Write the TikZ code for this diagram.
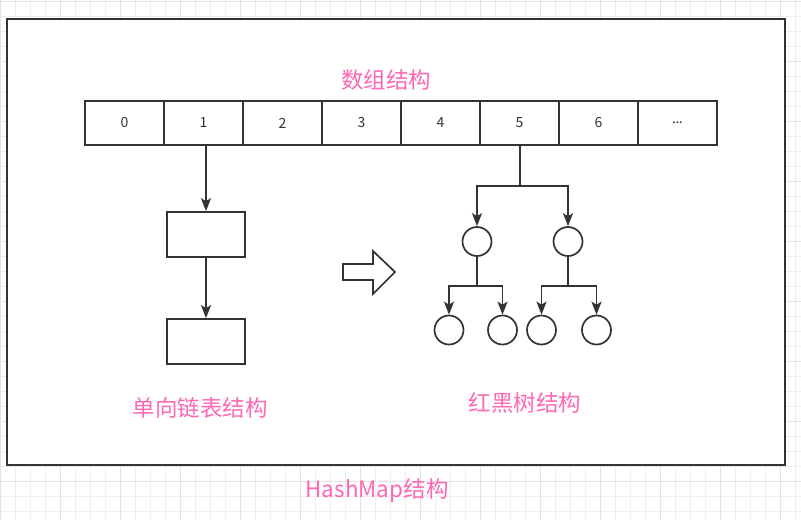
\documentclass[tikz,border=0pt]{standalone}
\usepackage{fontspec}
\setmainfont{Noto Sans CJK SC}
\usetikzlibrary{arrows.meta}
\definecolor{pinklabel}{RGB}{255,104,180}
\definecolor{linegray}{RGB}{51,51,51}
\tikzset{
	cell/.style={draw=linegray, line width=1.7pt, minimum width=79pt, minimum height=44pt, inner sep=0pt, text=linegray, font=\fontsize{14}{14}\selectfont},
	listbox/.style={draw=linegray, line width=1.7pt, minimum width=78pt, minimum height=45pt, inner sep=0pt},
	treenode/.style={circle, draw=linegray, line width=1.7pt, minimum size=29pt, inner sep=0pt},
	caption/.style={text=pinklabel, font=\fontsize{22.5}{22.5}\selectfont},
	link/.style={draw=linegray, line width=1.7pt, -{Stealth[length=13pt,width=10pt,inset=3pt]}},
	wire/.style={draw=linegray, line width=1.7pt}
}
\begin{document}
\begin{tikzpicture}[x=1pt,y=-1pt]
	\useasboundingbox (0,0) rectangle (801,520);
	% grid
	\foreach \k in {0,...,53}
		\draw[gray!13, line width=0.8pt] ({0.7+15*\k},0) -- ({0.7+15*\k},520);
	\foreach \k in {0,...,34}
		\draw[gray!13, line width=0.8pt] (0,{1.7+15*\k}) -- (801,{1.7+15*\k});
	\foreach \k in {0,...,13}
		\draw[gray!22, line width=0.8pt] ({0.7+60*\k},0) -- ({0.7+60*\k},520);
	\foreach \k in {0,...,8}
		\draw[gray!22, line width=0.8pt] (0,{1.7+60*\k}) -- (801,{1.7+60*\k});
	\draw[fill=white, draw=linegray, line width=1.8pt] (7,19) rectangle (785,465);
	% array
	\node[caption] (arraytitle) at (386,80) {数组结构};
	\foreach \i/\t in {0/0,1/1,2/2,3/3,4/4,5/5,6/6,7/{.\kern-0.5pt.\kern-0.5pt.}}
		\node[cell] (c\i) at ({124.5+79*\i},123) {\t};
	% linked list
	\node[listbox] (l1) at (206,234.5) {};
	\node[listbox] (l2) at (206,341.5) {};
	\draw[link] (l1.north |- c1.south) -- (l1.north);
	\draw[link] (l1.south) -- (l2.north);
	\node[caption] (listtitle) at (200,408) {单向链表结构};
	% hollow arrow
	\draw[draw=linegray, line width=1.7pt, line join=miter] (343,264) -- (373,264) -- (373,251) -- (395,272) -- (373,294) -- (373,280) -- (343,280) -- cycle;
	% red-black tree
	\node[treenode] (r1) at (477,241.5) {};
	\node[treenode] (r2) at (568,241.5) {};
	\node[treenode] (r11) at (449,330) {};
	\node[treenode] (r12) at (502.5,330) {};
	\node[treenode] (r21) at (541.5,330) {};
	\node[treenode] (r22) at (596.5,330) {};
	\coordinate (t0) at (520,186);
	\coordinate (t1) at (477,286);
	\coordinate (t2) at (568,286);
	\draw[wire] (c5.south -| t0) -- (t0);
	\draw[link] (t0) -| (r1.north);
	\draw[link] (t0) -| (r2.north);
	\draw[wire] (r1.south) -- (t1);
	\draw[link] (t1) -| (r11.north);
	\draw[link] (t1) -| (r12.north);
	\draw[wire] (r2.south) -- (t2);
	\draw[link] (t2) -| (r21.north);
	\draw[link] (t2) -| (r22.north);
	\node[caption] (treetitle) at (525,403) {红黑树结构};
	\node[caption] (maptitle) at (377,491) {HashMap结构};
\end{tikzpicture}
\end{document}
